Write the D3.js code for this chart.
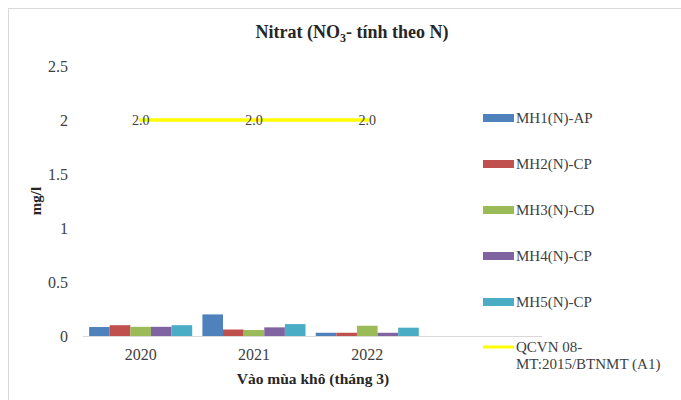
<!DOCTYPE html>
<html><head><meta charset="utf-8">
<script src="https://cdn.jsdelivr.net/npm/d3@7"></script>
<style>body{margin:0;background:#fff}svg{display:block}</style>
</head><body>
<script>
const years = ["2020", "2021", "2022"];
const seriesNames = ["MH1(N)-AP", "MH2(N)-CP", "MH3(N)-CĐ", "MH4(N)-CP", "MH5(N)-CP"];
const mh1 = [0.083, 0.20, 0.03];
const mh2 = [0.10, 0.06, 0.03];
const mh3 = [0.085, 0.055, 0.095];
const mh4 = [0.085, 0.08, 0.03];
const mh5 = [0.10, 0.11, 0.077];
const qcvn = [2.0, 2.0, 2.0];
const qcvnName = ["QCVN 08-", "MT:2015/BTNMT (A1)"];
const yTicks = [0, 0.5, 1, 1.5, 2, 2.5];
const colors = ["#4F81BD", "#C0504D", "#9BBB59", "#8064A2", "#4BACC6"];

const FF = "'Liberation Serif', 'Times New Roman', Tinos, 'DejaVu Serif', serif";
const W = 681, H = 400;
const svg = d3.select("body").append("svg").attr("width", W).attr("height", H)
  .style("font-family", FF);
svg.append("rect").attr("x", 8.5).attr("y", 8.5).attr("width", W).attr("height", H)
  .attr("fill", "#fff").attr("stroke", "#d9d9d9");

const x0 = 84, bandW = 113.3;
const x = d3.scaleBand().domain(years).range([x0, x0 + bandW * years.length]).paddingInner(0.09).paddingOuter(0.045);
const y = d3.scaleLinear().domain([0, 2.5]).range([336, 66]);
const xs = d3.scaleBand().domain(seriesNames).range([0, x.bandwidth()]);

// title
const t = svg.append("text").attr("x", 352).attr("y", 38).attr("text-anchor", "middle")
  .style("font-family", FF).attr("font-weight", "bold").attr("font-size", 18).attr("fill", "#262626");
t.append("tspan").text("Nitrat (NO");
t.append("tspan").attr("font-size", 12).attr("dy", 4).text("3");
t.append("tspan").attr("dy", -4).text("- tính theo N)");

// y axis
const ya = svg.append("g").attr("transform", "translate(70,0)")
  .call(d3.axisLeft(y).tickValues(yTicks).tickFormat(d3.format("")).tickSize(0).tickPadding(2));
ya.select(".domain").remove();
ya.attr("font-family", null);
ya.selectAll("text").style("font-family", FF).attr("font-size", 16).attr("fill", "#404040");

svg.append("text").attr("transform", "translate(41,201) rotate(-90)").attr("text-anchor", "middle")
  .style("font-family", FF).attr("font-weight", "bold").attr("font-size", 15).attr("fill", "#262626").text("mg/l");

// bars
const data = [mh1, mh2, mh3, mh4, mh5];
data.forEach((vals, si) => {
  svg.append("g").selectAll("rect").data(vals).join("rect")
    .attr("x", (d, i) => x(years[i]) + xs(seriesNames[si]))
    .attr("y", d => y(d))
    .attr("width", xs.bandwidth())
    .attr("height", d => y(0) - y(d))
    .attr("fill", colors[si]);
});

// x axis
svg.append("line").attr("x1", 83).attr("x2", 542).attr("y1", y(0) + 0.5).attr("y2", y(0) + 0.5)
  .attr("stroke", "#d9d9d9");
const xa = svg.append("g").attr("transform", `translate(0,${y(0)})`)
  .call(d3.axisBottom(x).tickSize(0).tickPadding(13));
xa.select(".domain").remove();
xa.attr("font-family", null);
xa.selectAll("text").style("font-family", FF).attr("font-size", 16).attr("fill", "#404040");

svg.append("text").attr("x", 313).attr("y", 384).attr("text-anchor", "middle")
  .style("font-family", FF).attr("font-weight", "bold").attr("font-size", 15.5).attr("fill", "#262626").text("Vào mùa khô (tháng 3)");

// QCVN line
const cx = (d, i) => x(years[i]) + x.bandwidth() / 2;
svg.append("path").datum(qcvn)
  .attr("d", d3.line().x(cx).y(d => y(d)))
  .attr("fill", "none").attr("stroke", "#FFFF00").attr("stroke-width", 3.5).attr("stroke-linecap", "square");
svg.append("g").selectAll("text").data(qcvn).join("text")
  .attr("x", cx).attr("y", d => y(d) + 5).attr("text-anchor", "middle")
  .style("font-family", FF).attr("font-size", 14).attr("fill", "#404040").text(d => d.toFixed(1));

// legend
const lg = svg.append("g");
const rowY = [118, 164, 210, 256, 302];
seriesNames.forEach((n, i) => {
  lg.append("rect").attr("x", 483).attr("y", rowY[i] - 4).attr("width", 31).attr("height", 8).attr("fill", colors[i]);
  lg.append("text").attr("x", 516).attr("y", rowY[i] + 5).style("font-family", FF).attr("font-size", 15).attr("fill", "#404040").text(n);
});
lg.append("line").attr("x1", 483).attr("x2", 514).attr("y1", 347).attr("y2", 347)
  .attr("stroke", "#FFFF00").attr("stroke-width", 3);
lg.append("text").attr("x", 516).attr("y", 352).style("font-family", FF).attr("font-size", 15).attr("fill", "#404040").text(qcvnName[0]);
lg.append("text").attr("x", 516).attr("y", 369).style("font-family", FF).attr("font-size", 15).attr("fill", "#404040").text(qcvnName[1]);
</script>
</body></html>
